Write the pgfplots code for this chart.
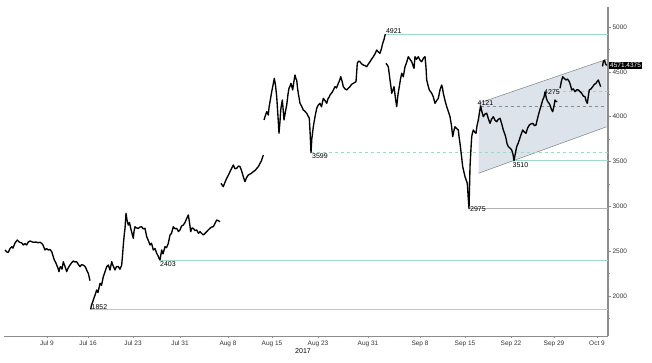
\documentclass[border=0pt]{standalone}
\usepackage{pgfplots}
\pgfplotsset{compat=1.18}
\usepackage{fontspec}
\setmainfont{Liberation Sans}
\definecolor{mint}{HTML}{9ED9C2}
\definecolor{chan}{HTML}{DCE3EA}
\definecolor{axgray}{HTML}{8C8C8C}
\begin{document}
\begin{tikzpicture}[x=1pt,y=1pt]
\begin{axis}[
  at={(0,0)}, anchor=south west,
  scale only axis, width=604pt, height=329pt,
  xmin=4, xmax=608, ymin=1555, ymax=5223,
  axis x line=bottom, axis y line=right,
  axis line style={-, draw=axgray},
  x axis line style={line width=0.6pt},
  y axis line style={line width=1.3pt},
  clip=false,
  unbounded coords=jump,
  tick align=outside,
  major tick length=2.5pt, minor tick length=1.5pt,
  tick style={draw=axgray, line width=0.4pt},
  xtick={47,88,133,180,228,272,318,368,420,465,511,554,597},
  xticklabels={Jul 9,Jul 16,Jul 23,Jul 31,Aug 8,Aug 15,Aug 23,Aug 31,Sep 8,Sep 15,Sep 22,Sep 29,Oct 9},
  minor xtick={7,13.5,...,605},
  ytick={2000,2500,3000,3500,4000,4500,5000},
  minor ytick={1750,2250,2750,3250,3750,4250,4750,5250},
  /pgf/number format/assume math mode=true,
  /pgf/number format/1000 sep={},
  ticklabel style={font=\fontsize{6.5}{7}\selectfont, text=black!80},
  xticklabel style={yshift=1pt},
  yticklabel style={xshift=-1.5pt},
]
% channel
\addplot[fill=chan, draw=none] coordinates {(478.5,3369) (478.5,4150) (606.7,4640) (606.7,3888)} -- cycle;
\addplot[draw=gray, line width=0.5pt] coordinates {(478.5,4150) (606.7,4640)};
\addplot[draw=gray, line width=0.5pt] coordinates {(478.5,3369) (606.7,3888)};
% levels
\addplot[mint, line width=0.8pt] coordinates {(385.3,4921) (608,4921)};
\addplot[mint, line width=0.8pt, dashed, dash pattern=on 3pt off 3pt] coordinates {(311,3599) (608,3599)};
\addplot[mint, line width=0.8pt] coordinates {(514,3510) (608,3510)};
\addplot[black!30, line width=0.8pt] coordinates {(469,2975) (608,2975)};
\addplot[mint, line width=0.8pt] coordinates {(160,2403) (608,2403)};
\addplot[mint, line width=0.8pt] coordinates {(90.7,1852) (608,1852)};
\addplot[black!45, line width=0.6pt, dash pattern=on 3pt off 3pt] coordinates {(480.7,4121) (608,4121)};
\addplot[black!25, line width=0.6pt, dash pattern=on 3pt off 3pt] coordinates {(545,4279) (608,4279)};
% price
\addplot[black, line width=1.35pt, line join=round] table {
x y
5 2514
7 2490
8.3 2488
10 2530
11.7 2550
13 2535
15 2592
17.3 2625
19 2605
20 2600
22 2590
23.3 2570
25 2585
26.7 2570
28 2600
30 2614
32 2605
33.3 2600
36 2602
38.3 2595
40 2600
41.7 2588
43 2570
45 2514
46.5 2530
48.3 2514
50 2520
51.7 2495
53 2450
54.3 2402
55.5 2380
56.7 2346
58 2310
59 2272
60 2320
60.7 2328
62 2300
63.3 2383
65 2330
66.7 2272
68 2310
70 2346
71.5 2370
73.3 2391
75 2380
76.7 2383
78.5 2350
80 2328
81.5 2350
83.3 2346
85 2330
86 2309
87 2280
88.3 2254
89.2 2210
90 2172
90.3 nan
90.7 1852
91.5 1900
92.5 1930
93.3 1956
95 2010
96.7 2068
98 2040
100 2142
101.5 2120
103.3 2216
105 2272
106.7 2328
108.3 2346
110 2290
111.7 2383
113 2340
115 2291
116.5 2330
118.3 2328
120 2300
121.7 2346
122.5 2450
123.3 2570
124.2 2680
125 2755
126 2922
127 2850
128.3 2792
129.5 2820
130.7 2755
132 2700
133.3 2644
134 2720
135 2773
136.5 2760
138.3 2755
140 2770
141.7 2773
143 2750
145 2755
146 2700
146.7 2662
148.3 2620
150 2570
151.5 2590
153.3 2514
155 2530
156.7 2477
158 2450
159 2421
160 2403
161.7 2514
163 2470
165 2551
166.5 2540
168.3 2588
170 2681
171.5 2700
173.3 2773
175 2750
176.7 2755
178.5 2720
180 2737
181.5 2780
183.3 2792
185 2820
186 2848
187.3 2880
188.3 2904
189.5 2820
190.7 2718
192 2760
193.3 2755
195 2730
196.7 2737
198.5 2700
200 2718
201.5 2700
203.3 2681
205 2700
206.7 2718
208.5 2740
210 2755
211.5 2770
213.3 2773
215 2810
216.7 2848
218.5 2840
220 2829
220.5 nan
221 3257
222 3240
223.3 3220
225 3270
226.7 3313
228.5 3350
230 3387
231.5 3420
233.3 3461
235 3420
236.7 3425
238.5 3450
240 3443
241.5 3400
243.3 3331
244.2 3300
245 3276
246.5 3320
248.3 3350
250 3360
251.5 3370
253.3 3387
255 3400
256.5 3420
258.3 3443
260 3480
261.5 3510
263.3 3573
263.6 nan
264 3963
265.3 4010
266.7 4056
268.3 4019
269 4100
270 4167
271 4230
271.7 4279
273 4350
274.3 4428
275.5 4350
276.7 4223
278 4000
279 3815
280 3950
280.7 4075
282.3 4186
283 4100
284 3963
285.5 4060
286.7 4130
288 4250
289 4317
290 4340
291 4372
292.7 4298
294 4400
295 4465
296 4420
296.7 4409
297.5 4320
298.3 4261
300 4149
301.5 4120
303.3 4075
305 4060
306.7 4038
308 4010
309.3 3982
310.2 3800
311 3599
311.8 3750
313.3 3888
315 4000
316.7 4093
318.3 4130
320 4149
321.5 4110
323.3 4205
325 4180
326.7 4149
328 4200
329.3 4223
330 4242
332 4270
333.5 4300
335 4335
336.5 4320
338.3 4372
339.5 4400
340.7 4446
342 4400
343.3 4335
345 4310
346.7 4298
348.5 4320
350 4335
351.5 4360
353.3 4372
354.5 4380
356 4391
356.7 4500
357.3 4595
358.5 4620
360 4613
361.5 4590
363.3 4576
365 4570
366.7 4557
368.5 4590
370 4613
371.5 4640
373.3 4669
375 4700
376.7 4743
378.5 4720
380 4706
381.5 4760
382.7 4818
384 4860
385.3 4921
385.6 nan
386 4595
387 4580
388.3 4557
389.2 4480
390 4409
391 4330
391.7 4261
393 4300
394 4335
395.5 4200
396.7 4112
398 4250
399.3 4335
400.5 4420
401.7 4484
403.3 4446
405 4557
406.5 4600
408.3 4669
410 4640
411.7 4613
413 4570
414 4539
415 4669
416.5 4640
418.3 4669
420 4630
421.7 4613
423.3 4650
425 4669
426 4550
426.7 4409
428 4350
429.3 4298
430.5 4280
431.7 4261
433.3 4220
435 4149
436.7 4180
438.3 4205
440 4300
441.7 4353
442.5 4320
443.3 4261
445 4180
446.7 4112
448.3 4060
450 4000
451.5 3900
452.7 3777
454 3850
455 3888
456.5 3870
458.3 3852
459 3780
460 3703
461.5 3560
462.7 3443
464 3380
465 3331
466 3300
467.3 3257
468.2 3100
469 2975
469.5 3200
470 3443
471 3650
471.7 3777
472.5 3820
473.3 3852
474.5 3830
476 3815
477 3900
478.3 3963
479.5 4050
480.7 4121
482 4050
483.3 4000
485 4030
486.7 4038
488.3 3980
490 3926
491.5 3970
493.3 4000
495 3960
496.7 3944
498.3 3970
500 3982
501.5 3930
503.3 3852
505 3800
506 3759
507 3700
508.3 3666
510 3650
511.7 3629
513 3580
514 3510
515.5 3600
516.7 3666
518 3700
519.3 3740
521 3800
522.7 3852
524.3 3830
526 3815
527.5 3870
529.3 3907
531 3920
532.7 3926
534.5 3900
536 3907
537.5 3980
539.3 4056
541 4120
542.7 4186
544 4220
545 4275
546.5 4200
547.7 4168
549 4150
550 4130
551.5 4080
552.7 4056
554 4120
555 4186
556 4170
557.3 4168
558 nan
560 4317
561.5 4400
562.7 4446
564 4430
566 4409
567.5 4420
569.3 4391
570.5 4350
571.7 4298
573.3 4310
575 4279
576.7 4300
578.3 4298
580 4280
581.7 4261
583.3 4230
585 4223
586 4180
587.3 4149
588.3 4230
589.3 4298
591 4310
592.7 4335
594.3 4360
596 4372
597 4390
598.3 4409
599.5 4370
600.7 4335
601.5 nan
602.5 4560
603.3 4613
604.5 4630
605.5 4590
606.7 4571
};
% annotations
\begin{scope}[every node/.style={font=\fontsize{7}{8}\selectfont, inner sep=0.5pt}]
\node[anchor=south west] at (axis cs:385.3,4921) {4921};
\node[anchor=west] at (axis cs:311.5,3560) {3599};
\node[anchor=west] at (axis cs:469.5,2975) {2975};
\node[anchor=north west] at (axis cs:512,3500) {3510};
\node[anchor=south west] at (axis cs:477,4121) {4121};
\node[anchor=south] at (axis cs:552,4240) {4275};
\node[anchor=north west] at (axis cs:159.5,2395) {2403};
\node[anchor=west] at (axis cs:91,1875) {1852};
\node at (axis cs:303,1555) [yshift=-15pt] {2017};
\node[fill=black, text=white, anchor=west, inner sep=1pt, font=\fontsize{6.5}{7}\selectfont] at (axis cs:609,4571) {4571.4375};
\end{scope}
\end{axis}
\pgfresetboundingbox
\path (-4,-27) rectangle (648,336);
\end{tikzpicture}
\end{document}
